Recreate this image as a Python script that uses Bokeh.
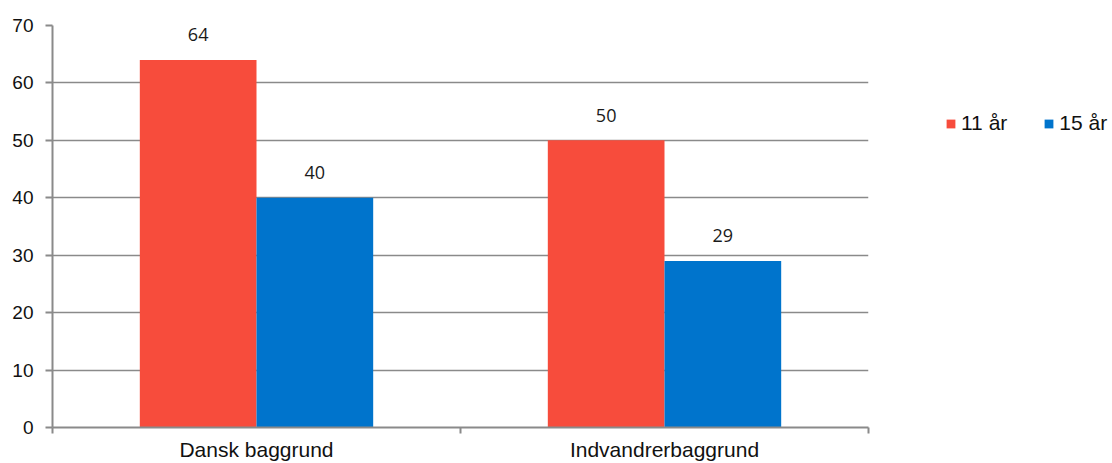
from bokeh.plotting import figure
from bokeh.layouts import row
from bokeh.models import ColumnDataSource, FixedTicker, Legend, LegendItem, Range1d
from bokeh.transform import dodge
from bokeh.core.properties import value
from bokeh.embed import file_html
from bokeh.resources import INLINE

categories = ["Dansk baggrund", "Indvandrerbaggrund"]
series_names = ["11 år", "15 år"]
values_11 = [64, 50]
values_15 = [40, 29]
y_ticks = [0, 10, 20, 30, 40, 50, 60, 70]

RED = "#F74C3C"
BLUE = "#0074CC"
GRID = "#8A8A8A"

xpos = [i + 0.5 for i in range(len(categories))]
src = ColumnDataSource(dict(
    x=xpos,
    v11=values_11,
    v15=values_15,
    t11=[str(v) for v in values_11],
    t15=[str(v) for v in values_15],
))

p = figure(width=870, height=463, output_backend="svg", toolbar_location=None,
           x_range=Range1d(0, len(categories)), y_range=Range1d(0, 70),
           min_border_left=52, min_border_top=25, min_border_right=2, min_border_bottom=35)
p.outline_line_color = None
p.background_fill_color = "white"

bw = 0.286
r1 = p.vbar(x=dodge("x", -bw / 2, range=p.x_range), top="v11", width=bw, source=src,
            fill_color=RED, line_color=None)
r2 = p.vbar(x=dodge("x", bw / 2, range=p.x_range), top="v15", width=bw, source=src,
            fill_color=BLUE, line_color=None)

for col, txt, off in (("v11", "t11", -bw / 2), ("v15", "t15", bw / 2)):
    p.text(x=dodge("x", off, range=p.x_range), y=col, text=txt, source=src,
           text_align="center", text_baseline="middle", y_offset=-25,
           text_font=value("Open Sans"), text_font_size="18px", text_color="#1a1a1a")

# y axis
p.yaxis.ticker = FixedTicker(ticks=y_ticks)
p.yaxis.axis_line_color = GRID
p.yaxis.axis_line_width = 2
p.yaxis.major_tick_line_color = GRID
p.yaxis.major_tick_line_width = 2
p.yaxis.major_tick_in = 0
p.yaxis.major_tick_out = 7
p.yaxis.minor_tick_line_color = None
p.yaxis.major_label_text_font = "Liberation Sans"
p.yaxis.major_label_text_font_size = "19px"
p.yaxis.major_label_text_color = "#111111"
p.yaxis.major_label_standoff = 12

# x axis
p.xaxis.ticker = FixedTicker(ticks=xpos, minor_ticks=list(range(len(categories) + 1)))
p.xaxis.major_label_overrides = {x: c for x, c in zip(xpos, categories)}
p.xaxis.axis_line_color = GRID
p.xaxis.axis_line_width = 2
p.xaxis.major_tick_line_color = None
p.xaxis.minor_tick_line_color = GRID
p.xaxis.minor_tick_line_width = 2
p.xaxis.minor_tick_in = 0
p.xaxis.minor_tick_out = 6
p.xaxis.major_tick_out = 0
p.xaxis.major_label_text_font = "Liberation Sans"
p.xaxis.major_label_text_font_size = "21px"
p.xaxis.major_label_text_line_height = 1.0
p.xaxis.major_label_text_color = "#111111"
p.xaxis.major_label_standoff = 4

p.xgrid.grid_line_color = None
p.ygrid.ticker = FixedTicker(ticks=y_ticks)
p.ygrid.grid_line_color = GRID
p.ygrid.grid_line_width = 1.5

# legend panel (separate figure to the right of the chart)
lg = figure(width=242, height=463, output_backend="svg", toolbar_location=None,
            x_range=Range1d(-10, -9), y_range=Range1d(-10, -9),
            x_axis_type=None, y_axis_type=None, min_border=0)
lg.outline_line_color = None
lg.xgrid.visible = False
lg.ygrid.visible = False
l1 = lg.vbar(x="x", top="v11", width=bw, source=src, fill_color=RED, line_color=None)
l2 = lg.vbar(x="x", top="v15", width=bw, source=src, fill_color=BLUE, line_color=None)

legend = Legend(items=[LegendItem(label=series_names[0], renderers=[l1]),
                       LegendItem(label=series_names[1], renderers=[l2])],
                orientation="horizontal", location=(75, 292),
                glyph_width=11, glyph_height=11, label_standoff=5, spacing=36,
                padding=0, margin=0, border_line_color=None, background_fill_alpha=0,
                label_text_font="Liberation Sans", label_text_font_size="21px",
                label_text_color="#111111", label_height=24)
lg.add_layout(legend, "center")

layout = row(p, lg)
open("out.html", "w").write(file_html(layout, INLINE))
